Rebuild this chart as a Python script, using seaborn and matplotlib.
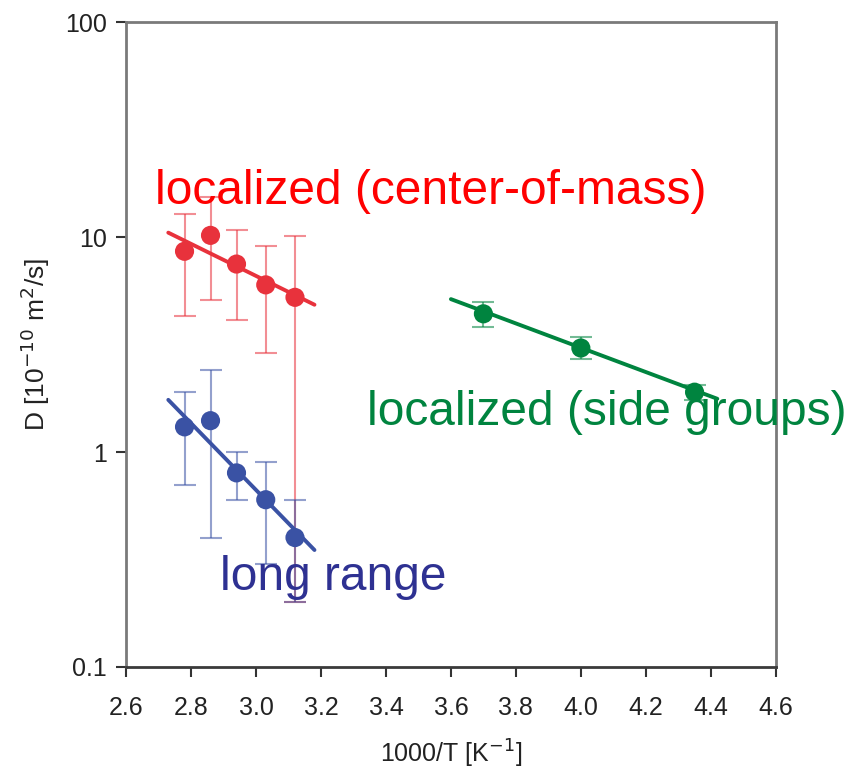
import numpy as np
import pandas as pd
import matplotlib
matplotlib.use("Agg")
import matplotlib.pyplot as plt
import seaborn as sns
from matplotlib.ticker import FixedLocator, NullLocator, FixedFormatter

# ---- data ----
x_cm = [2.78, 2.86, 2.94, 3.03, 3.12]
d_cm = [8.6, 10.2, 7.5, 6.0, 5.25]
d_cm_hi = [12.8, 15.4, 10.8, 9.1, 10.1]
d_cm_lo = [4.3, 5.1, 4.1, 2.9, 0.2]
fit_cm_x = [2.73, 3.18]
fit_cm_y = [10.5, 4.85]

x_lr = [2.78, 2.86, 2.94, 3.03, 3.12]
d_lr = [1.31, 1.4, 0.8, 0.6, 0.4]
d_lr_hi = [1.9, 2.4, 1.0, 0.9, 0.6]
d_lr_lo = [0.7, 0.4, 0.6, 0.3, 0.2]
fit_lr_x = [2.73, 3.18]
fit_lr_y = [1.75, 0.35]

x_sg = [3.70, 4.00, 4.35]
d_sg = [4.4, 3.05, 1.9]
d_sg_hi = [5.0, 3.45, 2.05]
d_sg_lo = [3.8, 2.7, 1.75]
fit_sg_x = [3.60, 4.42]
fit_sg_y = [5.15, 1.77]

x_ticks = [2.6, 2.8, 3.0, 3.2, 3.4, 3.6, 3.8, 4.0, 4.2, 4.4, 4.6]
y_ticks = [0.1, 1, 10, 100]
y_ticklabels = ["0.1", "1", "10", "100"]

series = [
    ("localized (center-of-mass)", x_cm, d_cm, d_cm_hi, d_cm_lo, fit_cm_x, fit_cm_y,
     "#e8323c", "#ff0000", (2.689, 16.4)),
    ("long range", x_lr, d_lr, d_lr_hi, d_lr_lo, fit_lr_x, fit_lr_y,
     "#3a52a4", "#2e3192", (2.889, 0.262)),
    ("localized (side groups)", x_sg, d_sg, d_sg_hi, d_sg_lo, fit_sg_x, fit_sg_y,
     "#00843f", "#00843f", (3.342, 1.53)),
]

sns.set_theme(style="white")
plt.rcParams["font.family"] = ["Liberation Sans", "DejaVu Sans"]

fig = plt.figure(figsize=(8.46, 7.71), dpi=100)
ax = fig.add_axes([0.149, 0.135, 0.768, 0.836])
ax.set_yscale("log")

for name, xs, ys, hi, lo, fx, fy, col, tcol, tpos in series:
    ys_a = np.array(ys)
    yerr = np.vstack([ys_a - np.array(lo), np.array(hi) - ys_a])
    ax.errorbar(xs, ys, yerr=yerr, fmt="none", ecolor=col, elinewidth=1.5,
                capsize=8, capthick=1.5, alpha=0.55, zorder=2)
    sns.lineplot(x=fx, y=fy, ax=ax, color=col, linewidth=2.8, zorder=3)
    sns.scatterplot(x=xs, y=ys, ax=ax, color=col, s=190, edgecolor="none", zorder=4)
    ax.text(tpos[0], tpos[1], name, color=tcol, fontsize=34.5, va="center",
            ha="left", clip_on=False, zorder=5)

ax.set_xlim(2.6, 4.6)
ax.set_ylim(0.1, 100)
ax.xaxis.set_major_locator(FixedLocator(x_ticks))
ax.set_xticklabels([f"{v:.1f}" for v in x_ticks])
ax.yaxis.set_major_locator(FixedLocator(y_ticks))
ax.yaxis.set_major_formatter(FixedFormatter(y_ticklabels))
ax.yaxis.set_minor_locator(NullLocator())

for s in ax.spines.values():
    s.set_color("#7a7a7a")
    s.set_linewidth(2)
    s.set_visible(True)
ax.spines["bottom"].set_color("#3a3a3a")
ax.tick_params(axis="both", which="major", direction="out", length=7, width=1.5,
               color="#333333", labelsize=18, labelcolor="#222222",
               bottom=True, left=True, top=False, right=False)
ax.tick_params(axis="x", pad=14)
ax.tick_params(axis="y", pad=7)

ax.set_xlabel("1000/T [K$^{-1}$]", fontsize=18, color="#222222", labelpad=13)
ax.set_ylabel("D [10$^{-10}$ m$^{2}$/s]", fontsize=19, color="#222222", labelpad=9)
ax.grid(False)

fig.savefig("out.png", dpi=100)
